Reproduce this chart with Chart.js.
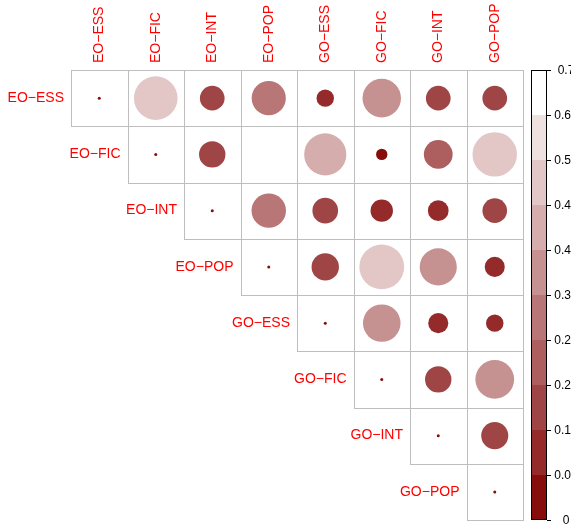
<!DOCTYPE html>
<html>
<head>
<meta charset="utf-8">
<title>corrplot</title>
<script src="https://cdn.jsdelivr.net/npm/chart.js@4"></script>
<style>
html, body { margin: 0; padding: 0; background: #fff; }
#wrap { width: 571px; height: 527px; }
</style>
</head>
<body>
<div id="wrap"><canvas id="c" width="571" height="527"></canvas></div>
<script>
var vars = ['EO−ESS', 'EO−FIC', 'EO−INT', 'EO−POP', 'GO−ESS', 'GO−FIC', 'GO−INT', 'GO−POP'];

// upper triangle, every row starts at its diagonal cell
var rowEOESS = [0, 0.52, 0.166, 0.318, 0.083, 0.405, 0.166, 0.166];
var rowEOFIC = [0, 0.19, 0.68, 0.485, 0.035, 0.226, 0.54];
var rowEOINT = [0, 0.325, 0.18, 0.137, 0.117, 0.166];
var rowEOPOP = [0, 0.205, 0.55, 0.376, 0.11];
var rowGOESS = [0, 0.384, 0.11, 0.083];
var rowGOFIC = [0, 0.19, 0.41];
var rowGOINT = [0, 0.2];
var rowGOPOP = [0];
var rows = [rowEOESS, rowEOFIC, rowEOINT, rowEOPOP, rowGOESS, rowGOFIC, rowGOINT, rowGOPOP];

// colour legend
var barTicks = [0, 0.07, 0.14, 0.21, 0.28, 0.35, 0.42, 0.49, 0.56, 0.63, 0.7];
var barTickLabels = ['0', '0.07', '0.14', '0.21', '0.28', '0.35', '0.42', '0.49', '0.56', '0.63', '0.7'];
var barColors = ['#870d0d', '#942a2a', '#a04545', '#ad5e5e', '#b97676',
                 '#c69191', '#d5adad', '#e3c7c7', '#f0e1e1', '#ffffff'];
var vMax = 0.7;

function colorFor(v) {
  for (var k = barTicks.length - 2; k >= 0; k--) {
    if (v >= barTicks[k]) return barColors[k];
  }
  return barColors[0];
}

var points = [];
rows.forEach(function (row, i) {
  row.forEach(function (v, k) {
    points.push({ x: i + k + 1, y: i + 1, v: v });
  });
});

var FONT = 'Liberation Sans, Arial, Helvetica, sans-serif';
Chart.defaults.font.family = FONT;

function cellSize(chart) {
  var xs = chart.scales.x, ys = chart.scales.y;
  return {
    w: xs.getPixelForValue(2) - xs.getPixelForValue(1),
    h: ys.getPixelForValue(2) - ys.getPixelForValue(1)
  };
}

var cellGrid = {
  id: 'cellGrid',
  beforeDatasetsDraw: function (chart) {
    var ctx = chart.ctx, xs = chart.scales.x, ys = chart.scales.y;
    function ex(v) { return Math.round(xs.getPixelForValue(v)) + 0.5; }
    function ey(v) { return Math.round(ys.getPixelForValue(v)) + 0.5; }
    ctx.save();
    ctx.strokeStyle = '#bebebe';
    ctx.lineWidth = 1;
    rows.forEach(function (row, i) {
      row.forEach(function (v, k) {
        var j = i + k + 1, r = i + 1;
        var l = ex(j - 0.5), rt = ex(j + 0.5), t = ey(r - 0.5), b = ey(r + 0.5);
        ctx.strokeRect(l, t, rt - l, b - t);
      });
    });
    ctx.restore();
  },
  afterDraw: function (chart) {
    var ctx = chart.ctx, xs = chart.scales.x, ys = chart.scales.y, cb = chart.scales.cb;
    var c = cellSize(chart);
    var area = chart.chartArea;
    ctx.save();
    ctx.fillStyle = '#ff0000';
    ctx.font = '14px ' + FONT;
    // column labels, reading upwards
    ctx.textAlign = 'left';
    ctx.textBaseline = 'middle';
    vars.forEach(function (name, j) {
      ctx.save();
      ctx.translate(xs.getPixelForValue(j + 1), area.top - 7);
      ctx.rotate(-Math.PI / 2);
      ctx.fillText(name, 0, 0);
      ctx.restore();
    });
    // row labels next to the diagonal
    ctx.textAlign = 'right';
    vars.forEach(function (name, i) {
      ctx.fillText(name, xs.getPixelForValue(i + 1) - c.w / 2 - 7, ys.getPixelForValue(i + 1));
    });
    // colour bar
    var x0 = area.right + 8, bw = 16;
    for (var k = 0; k < barColors.length; k++) {
      var yTop = cb.getPixelForValue(barTicks[k + 1]);
      var yBot = cb.getPixelForValue(barTicks[k]);
      ctx.fillStyle = barColors[k];
      ctx.fillRect(x0, yTop, bw, yBot - yTop);
    }
    ctx.strokeStyle = '#000';
    ctx.lineWidth = 1;
    var top = cb.getPixelForValue(vMax), bot = cb.getPixelForValue(0);
    ctx.strokeRect(x0 + 0.5, Math.round(top) + 0.5, bw - 1, Math.round(bot - top) - 1);
    ctx.fillStyle = '#000';
    ctx.font = '12px ' + FONT;
    ctx.textAlign = 'center';
    barTicks.forEach(function (t, k) {
      var y = Math.round(cb.getPixelForValue(t)) + 0.5;
      ctx.beginPath();
      ctx.moveTo(x0 + bw, y);
      ctx.lineTo(x0 + bw + 4, y);
      ctx.stroke();
      ctx.fillText(barTickLabels[k], x0 + bw + 19, y);
    });
    ctx.restore();
  }
};

new Chart(document.getElementById('c'), {
  type: 'scatter',
  data: {
    datasets: [{
      data: points,
      showLine: false,
      pointBorderWidth: 0,
      pointRadius: function (ctx) {
        if (!ctx.raw) return 0;
        var c = cellSize(ctx.chart);
        var r = 0.45 * Math.min(c.w, c.h) * Math.sqrt(ctx.raw.v / vMax);
        return Math.max(1.5, r);
      },
      pointBackgroundColor: function (ctx) { return ctx.raw ? colorFor(ctx.raw.v) : barColors[0]; },
      pointBorderColor: 'rgba(0,0,0,0)',
      pointHoverRadius: 0
    }]
  },
  options: {
    responsive: false,
    animation: false,
    devicePixelRatio: 1,
    events: [],
    layout: { padding: { left: 71, right: 48, top: 70, bottom: 7 } },
    plugins: { legend: { display: false }, tooltip: { enabled: false } },
    scales: {
      x: { type: 'linear', min: 0.5, max: 8.5, display: false },
      y: { type: 'linear', min: 0.5, max: 8.5, reverse: true, display: false },
      cb: { type: 'linear', axis: 'y', min: 0, max: vMax, display: false }
    }
  },
  plugins: [cellGrid]
});
</script>
</body>
</html>
